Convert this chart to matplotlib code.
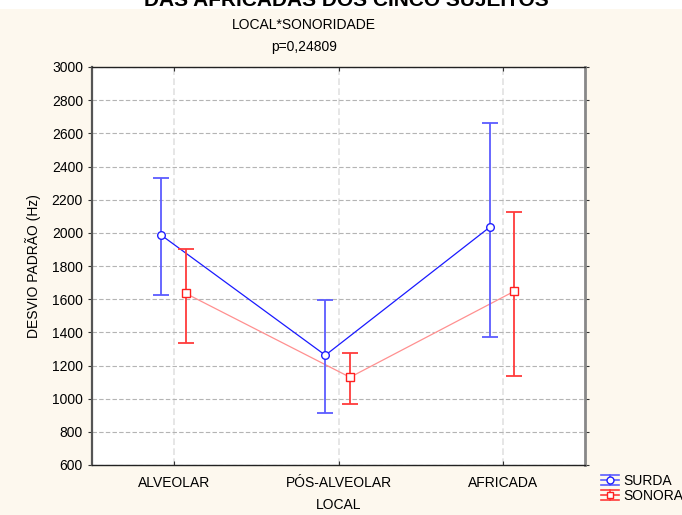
import matplotlib.pyplot as plt
from matplotlib.patches import Rectangle
from matplotlib.lines import Line2D
from matplotlib.legend_handler import HandlerBase
import numpy as np

plt.rcParams['font.family'] = ['Liberation Sans', 'DejaVu Sans']

# Means and 95% interval limits per place of articulation
local = ['ALVEOLAR', 'PÓS-ALVEOLAR', 'AFRICADA']
surda_mean = [1987, 1262, 2034]
surda_low = [1625, 912, 1374]
surda_high = [2331, 1595, 2661]
sonora_mean = [1635, 1129, 1648]
sonora_low = [1336, 966, 1137]
sonora_high = [1905, 1274, 2128]

cream = '#fdf8ee'
fs = 10
fig = plt.figure(figsize=(6.82, 5.15), dpi=100, facecolor=cream)
# white strip along the top edge
fig.patches.append(Rectangle((0, 1 - 9 / 515), 1, 9 / 515, transform=fig.transFigure,
                             facecolor='white', edgecolor='none', zorder=0))

ax = fig.add_axes([92 / 682, 1 - 465 / 515, 493 / 682, 398 / 515])
ax.set_facecolor('white')

x = np.arange(len(local))
off_surda, off_sonora = -0.08, 0.07


class BarKey(Line2D):
    """Proxy artist holding the style for the legend glyph."""
    pass


class HandlerBarKey(HandlerBase):
    # three horizontal strokes joined by a vertical one, marker in the middle
    def create_artists(self, legend, orig, xd, yd, w, h, fontsize, trans):
        c = orig.get_color()
        mc = orig.get_markeredgecolor()
        ym = h / 2 - yd
        dy = h * 0.45
        arts = []
        for yy in (ym - dy, ym, ym + dy):
            arts.append(Line2D([-xd, -xd + w], [yy, yy], color=c, lw=1.2))
        arts.append(Line2D([-xd + w / 2] * 2, [ym - dy, ym + dy], color=c, lw=1.2))
        arts.append(Line2D([-xd + w / 2], [ym], marker=orig.get_marker(), ms=5,
                           mfc='white', mec=mc, mew=1.0, linestyle='none'))
        for a in arts:
            a.set_transform(trans)
        return arts


def draw(xpos, mean, low, high, line_color, bar_color, mark_color, marker, label):
    mean = np.array(mean)
    yerr = [mean - np.array(low), np.array(high) - mean]
    ax.plot(xpos, mean, color=line_color, lw=0.9, zorder=3)
    ax.errorbar(xpos, mean, yerr=yerr, fmt='none', ecolor=bar_color,
                elinewidth=1.3, capsize=6, capthick=1.3, zorder=4)
    ax.plot(xpos, mean, linestyle='none', marker=marker, ms=5.5, mfc='white',
            mec=mark_color, mew=1.0, zorder=5)
    return BarKey([], [], color=bar_color, marker=marker, mec=mark_color, label=label)


h1 = draw(x + off_surda, surda_mean, surda_low, surda_high,
          '#1a1aff', '#5c5cff', '#2020ff', 'o', 'SURDA')
h2 = draw(x + off_sonora, sonora_mean, sonora_low, sonora_high,
          '#ff9090', '#ff3b3b', '#ff2020', 's', 'SONORA')

ax.set_xlim(-0.5, 2.5)
ax.set_ylim(600, 3000)
ax.set_yticks(np.arange(600, 3001, 200))
ax.set_xticks(x)
ax.set_xticklabels(local)
ax.tick_params(axis='both', labelsize=fs, length=3, color='#333333')
ax.tick_params(axis='y', direction='out', right=True)
ax.tick_params(axis='x', direction='in', top=True, pad=8)

ax.grid(True, axis='y', linestyle=(0, (4, 2)), color='#b4b4b4', lw=0.8)
ax.grid(True, axis='x', linestyle=(0, (4, 2)), color='#e2e2e2', lw=1.2)
ax.set_axisbelow(True)

for side in ['top', 'bottom', 'left']:
    ax.spines[side].set_color('#222222')
    ax.spines[side].set_linewidth(1.0)
ax.spines['left'].set_color('#555555')
ax.spines['left'].set_linewidth(1.6)
ax.spines['right'].set_color('#888888')
ax.spines['right'].set_linewidth(2.0)

ax.set_xlabel('LOCAL', fontsize=fs, labelpad=6)
ax.set_ylabel('DESVIO PADRÃO (Hz)', fontsize=fs, labelpad=8)

fig.text(346 / 682, 1 - 0 / 515, 'DAS AFRICADAS DOS CINCO SUJEITOS', ha='center',
         va='center', fontsize=15, fontweight='bold')
fig.text(304 / 682, 1 - 25 / 515, 'LOCAL*SONORIDADE', ha='center', va='center', fontsize=fs)
fig.text(304 / 682, 1 - 47 / 515, 'p=0,24809', ha='center', va='center', fontsize=fs)

fig.legend(handles=[h1, h2], handler_map={BarKey: HandlerBarKey()},
           loc='upper left', bbox_to_anchor=(601 / 682, 1 - 474 / 515),
           frameon=False, fontsize=fs, handlelength=1.3, handleheight=0.9,
           handletextpad=0.3, labelspacing=0.05, borderpad=0, borderaxespad=0)

fig.savefig('out.png', dpi=100, facecolor=cream)
